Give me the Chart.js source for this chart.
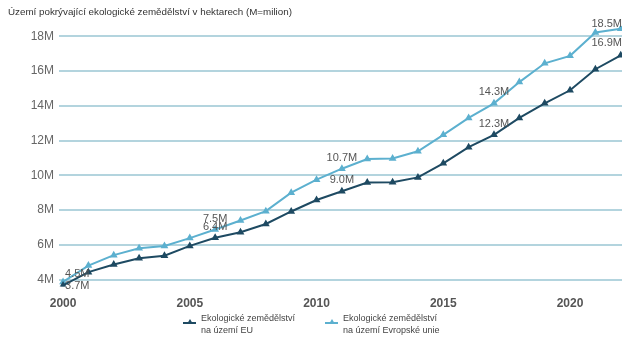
<!DOCTYPE html>
<html>
<head>
<meta charset="utf-8">
<script src="https://cdn.jsdelivr.net/npm/chart.js@4"></script>
<style>
  html, body { margin: 0; padding: 0; background: #fff; }
  #wrap { position: relative; width: 622px; height: 338px; }
  #legend { position: absolute; top: 312px; left: 0; width: 622px; height: 26px;
            font-family: "Liberation Sans", Arial, sans-serif; font-size: 9px; color: #444; }
  .item { position: absolute; top: 0; display: flex; align-items: flex-start; }
  .item span.txt { white-space: pre-line; line-height: 12px; }
  .mark { position: relative; width: 13px; height: 12px; margin-right: 5px; margin-top: 5px; }
  .mark .ln { position: absolute; left: 0; top: 5px; width: 13px; height: 2px; }
  .mark .tri { position: absolute; left: 4px; top: 2px; width: 0; height: 0;
               border-left: 3px solid transparent; border-right: 3px solid transparent; border-bottom: 5px solid; }
</style>
</head>
<body>
<div id="wrap">
  <canvas id="chart" width="622" height="338"></canvas>
  <div id="legend"></div>
</div>
<script>
// Years and values (millions of hectares)
const years = [2000, 2001, 2002, 2003, 2004, 2005, 2006, 2007, 2008, 2009, 2010, 2011,
               2012, 2013, 2014, 2015, 2016, 2017, 2018, 2019, 2020, 2021, 2022];
const euValues = [3.67, 4.43, 4.87, 5.23, 5.38, 5.94, 6.41, 6.73, 7.2, 7.92, 8.58, 9.08,
                  9.58, 9.6, 9.88, 10.69, 11.62, 12.33, 13.3, 14.14, 14.89, 16.1, 16.9];
const europeValues = [3.87, 4.81, 5.41, 5.8, 5.94, 6.39, 6.88, 7.4, 7.94, 9.0, 9.75, 10.38,
                      10.94, 10.97, 11.38, 12.33, 13.3, 14.14, 15.36, 16.44, 16.87, 18.21, 18.43];

// Annotated points
const labelYears = [2000, 2006, 2011, 2017, 2022];
const euLabels = ['3.7M', '6.4M', '9.0M', '12.3M', '16.9M'];
const europeLabels = ['4.5M', '7.5M', '10.7M', '14.3M', '18.5M'];

const xTicks = [2000, 2005, 2010, 2015, 2020];
const yTicks = [4, 6, 8, 10, 12, 14, 16, 18];

const seriesNames = ['Ekologické zemědělství\nna území EU', 'Ekologické zemědělství\nna území Evropské unie'];
const darkColor = '#1e4a62';
const lightColor = '#5cb0cf';

// Draw the value labels next to their points
const pointLabels = {
    id: 'pointLabels',
    afterDatasetsDraw(chart) {
        const ctx = chart.ctx;
        const xs = chart.scales.x;
        const ys = chart.scales.y;
        const sets = [
            { values: euValues, labels: euLabels },
            { values: europeValues, labels: europeLabels }
        ];
        ctx.save();
        ctx.font = '11px "Liberation Sans", Arial, sans-serif';
        ctx.fillStyle = '#555';
        ctx.textBaseline = 'middle';
        sets.forEach((s, si) => {
            labelYears.forEach((yr, i) => {
                const idx = years.indexOf(yr);
                const px = xs.getPixelForValue(yr);
                const py = ys.getPixelForValue(s.values[idx]);
                let dy = -11;
                let x = px;
                ctx.textAlign = 'center';
                if (i === 0) {
                    ctx.textAlign = 'left';
                    x = px + 2;
                    dy = si === 0 ? 1 : -8;
                } else if (i === labelYears.length - 1) {
                    ctx.textAlign = 'right';
                    x = chart.chartArea.right;
                    dy = si === 0 ? -12 : -5;
                }
                ctx.fillText(s.labels[i], x, py + dy);
            });
        });
        ctx.restore();
    }
};

const ctx = document.getElementById('chart').getContext('2d');
const chart = new Chart(ctx, {
    type: 'line',
    data: {
        datasets: [
            {
                label: seriesNames[0],
                data: years.map((y, i) => ({ x: y, y: euValues[i] })),
                borderColor: darkColor,
                backgroundColor: darkColor,
                borderWidth: 2,
                pointStyle: 'triangle',
                pointRadius: 2.5,
                tension: 0
            },
            {
                label: seriesNames[1],
                data: years.map((y, i) => ({ x: y, y: europeValues[i] })),
                borderColor: lightColor,
                backgroundColor: lightColor,
                borderWidth: 2,
                pointStyle: 'triangle',
                pointRadius: 2.5,
                tension: 0
            }
        ]
    },
    options: {
        responsive: false,
        animation: false,
        layout: { autoPadding: false, padding: { left: 8, right: 0, top: 0, bottom: 25 } },
        plugins: {
            legend: { display: false },
            tooltip: { enabled: false },
            title: {
                display: true,
                text: 'Území pokrývající ekologické zemědělství v hektarech (M=milion)',
                align: 'start',
                color: '#333',
                font: { family: '"Liberation Sans", Arial, sans-serif', size: 9.8, weight: 'normal' },
                padding: { top: 6, bottom: 8 }
            }
        },
        scales: {
            x: {
                type: 'linear',
                min: 1999.84,
                max: 2022.05,
                afterBuildTicks: scale => { scale.ticks = xTicks.map(v => ({ value: v })); },
                afterFit: scale => { scale.paddingLeft = 0; scale.paddingRight = 0; },
                grid: { display: false },
                border: { display: false },
                ticks: {
                    color: '#555',
                    padding: 2,
                    font: { family: '"Liberation Sans", Arial, sans-serif', size: 12, weight: 'bold' },
                    callback: v => String(v),
                    maxRotation: 0
                }
            },
            y: {
                min: 3.6,
                max: 18.6,
                afterBuildTicks: scale => { scale.ticks = yTicks.map(v => ({ value: v })); },
                afterFit: scale => { scale.width = 51; },
                grid: { color: '#b3d4de', lineWidth: 2, drawTicks: false },
                border: { display: false },
                ticks: {
                    color: '#666',
                    padding: 5,
                    font: { family: '"Liberation Sans", Arial, sans-serif', size: 12 },
                    callback: v => v + 'M'
                }
            }
        }
    },
    plugins: [pointLabels]
});

// HTML legend with two-line labels
const legendEl = document.getElementById('legend');
const legendX = [183, 325];
chart.data.datasets.forEach((ds, i) => {
    const item = document.createElement('div');
    item.className = 'item';
    item.style.left = legendX[i] + 'px';
    item.innerHTML = '<div class="mark"><div class="ln" style="background:' + ds.borderColor + '"></div>' +
        '<div class="tri" style="border-bottom-color:' + ds.borderColor + '"></div></div>' +
        '<span class="txt"></span>';
    item.querySelector('.txt').textContent = ds.label;
    legendEl.appendChild(item);
});
</script>
</body>
</html>
